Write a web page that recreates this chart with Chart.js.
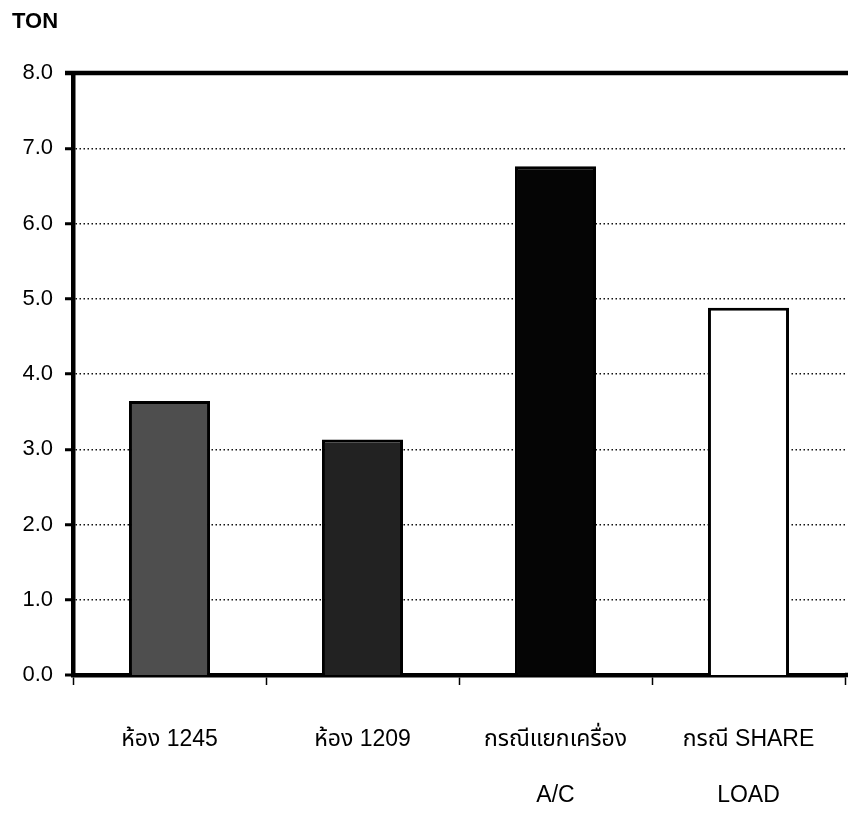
<!DOCTYPE html>
<html>
<head>
<meta charset="utf-8">
<script src="https://cdn.jsdelivr.net/npm/chart.js@4/dist/chart.umd.min.js"></script>
<style>
html,body{margin:0;padding:0;background:#fff;overflow:hidden;}
#wrap{width:848px;height:813px;}
</style>
</head>
<body>
<div id="wrap"><canvas id="c" width="848" height="813"></canvas></div>
<script>
const categories = [['ห้อง 1245'], ['ห้อง 1209'], ['กรณีแยกเครื่อง', 'A/C'], ['กรณี SHARE', 'LOAD']];
const values = [3.64, 3.13, 6.76, 4.88];
const barColors = ['#4e4e4e', '#222222', '#050505', '#ffffff'];
const yUnit = 'TON';

const FONT = "'Liberation Sans', Arial, 'Noto Sans', 'Noto Sans Thai', sans-serif";

const topLine = {
  id: 'topLine',
  afterDraw(chart) {
    const {ctx, chartArea} = chart;
    ctx.save();
    ctx.strokeStyle = '#000';
    ctx.lineWidth = 4.5;
    ctx.beginPath();
    ctx.moveTo(chartArea.left - 8, chartArea.top);
    ctx.lineTo(chart.width, chartArea.top);
    ctx.stroke();
    ctx.beginPath();
    ctx.moveTo(chartArea.right, chartArea.bottom);
    ctx.lineTo(chart.width, chartArea.bottom);
    ctx.stroke();
    ctx.restore();
  }
};

new Chart(document.getElementById('c'), {
  type: 'bar',
  data: {
    labels: categories,
    datasets: [{
      data: values,
      backgroundColor: barColors,
      borderColor: '#000',
      borderWidth: 3,
      barPercentage: 0.42,
      categoryPercentage: 1
    }]
  },
  options: {
    responsive: false,
    animation: false,
    layout: { padding: { left: 12, right: 3, top: 0, bottom: 0 } },
    plugins: {
      legend: { display: false },
      tooltip: { enabled: false },
      title: {
        display: true,
        text: yUnit,
        align: 'start',
        color: '#000',
        font: { family: FONT, size: 22, weight: 'bold', lineHeight: 1.2 },
        padding: { top: 9, bottom: 37.6 }
      }
    },
    scales: {
      x: {
        grid: {
          offset: true,
          drawOnChartArea: false,
          tickLength: 10,
          tickWidth: 1.5,
          tickColor: '#000'
        },
        border: { display: true, color: '#000', width: 4.5 },
        ticks: {
          color: '#000',
          padding: 27.5,
          font: { family: FONT, size: 23, lineHeight: 2.4 }
        },
        afterFit(s) { s.height = 138; }
      },
      y: {
        min: 0,
        max: 8,
        ticks: {
          stepSize: 1,
          color: '#000',
          padding: 12,
          font: { family: FONT, size: 22 },
          callback: v => Number(v).toFixed(1)
        },
        grid: {
          color: '#111',
          lineWidth: c => (c.tick && (c.tick.value === 0 || c.tick.value === 8)) ? 0 : 1.5,
          tickLength: 8,
          tickWidth: 3,
          tickColor: '#000'
        },
        border: { display: true, color: '#000', width: 4.5, dash: [1.5, 2.5] },
        afterFit(s) { s.width = 61; }
      }
    }
  },
  plugins: [topLine]
});
</script>
</body>
</html>
